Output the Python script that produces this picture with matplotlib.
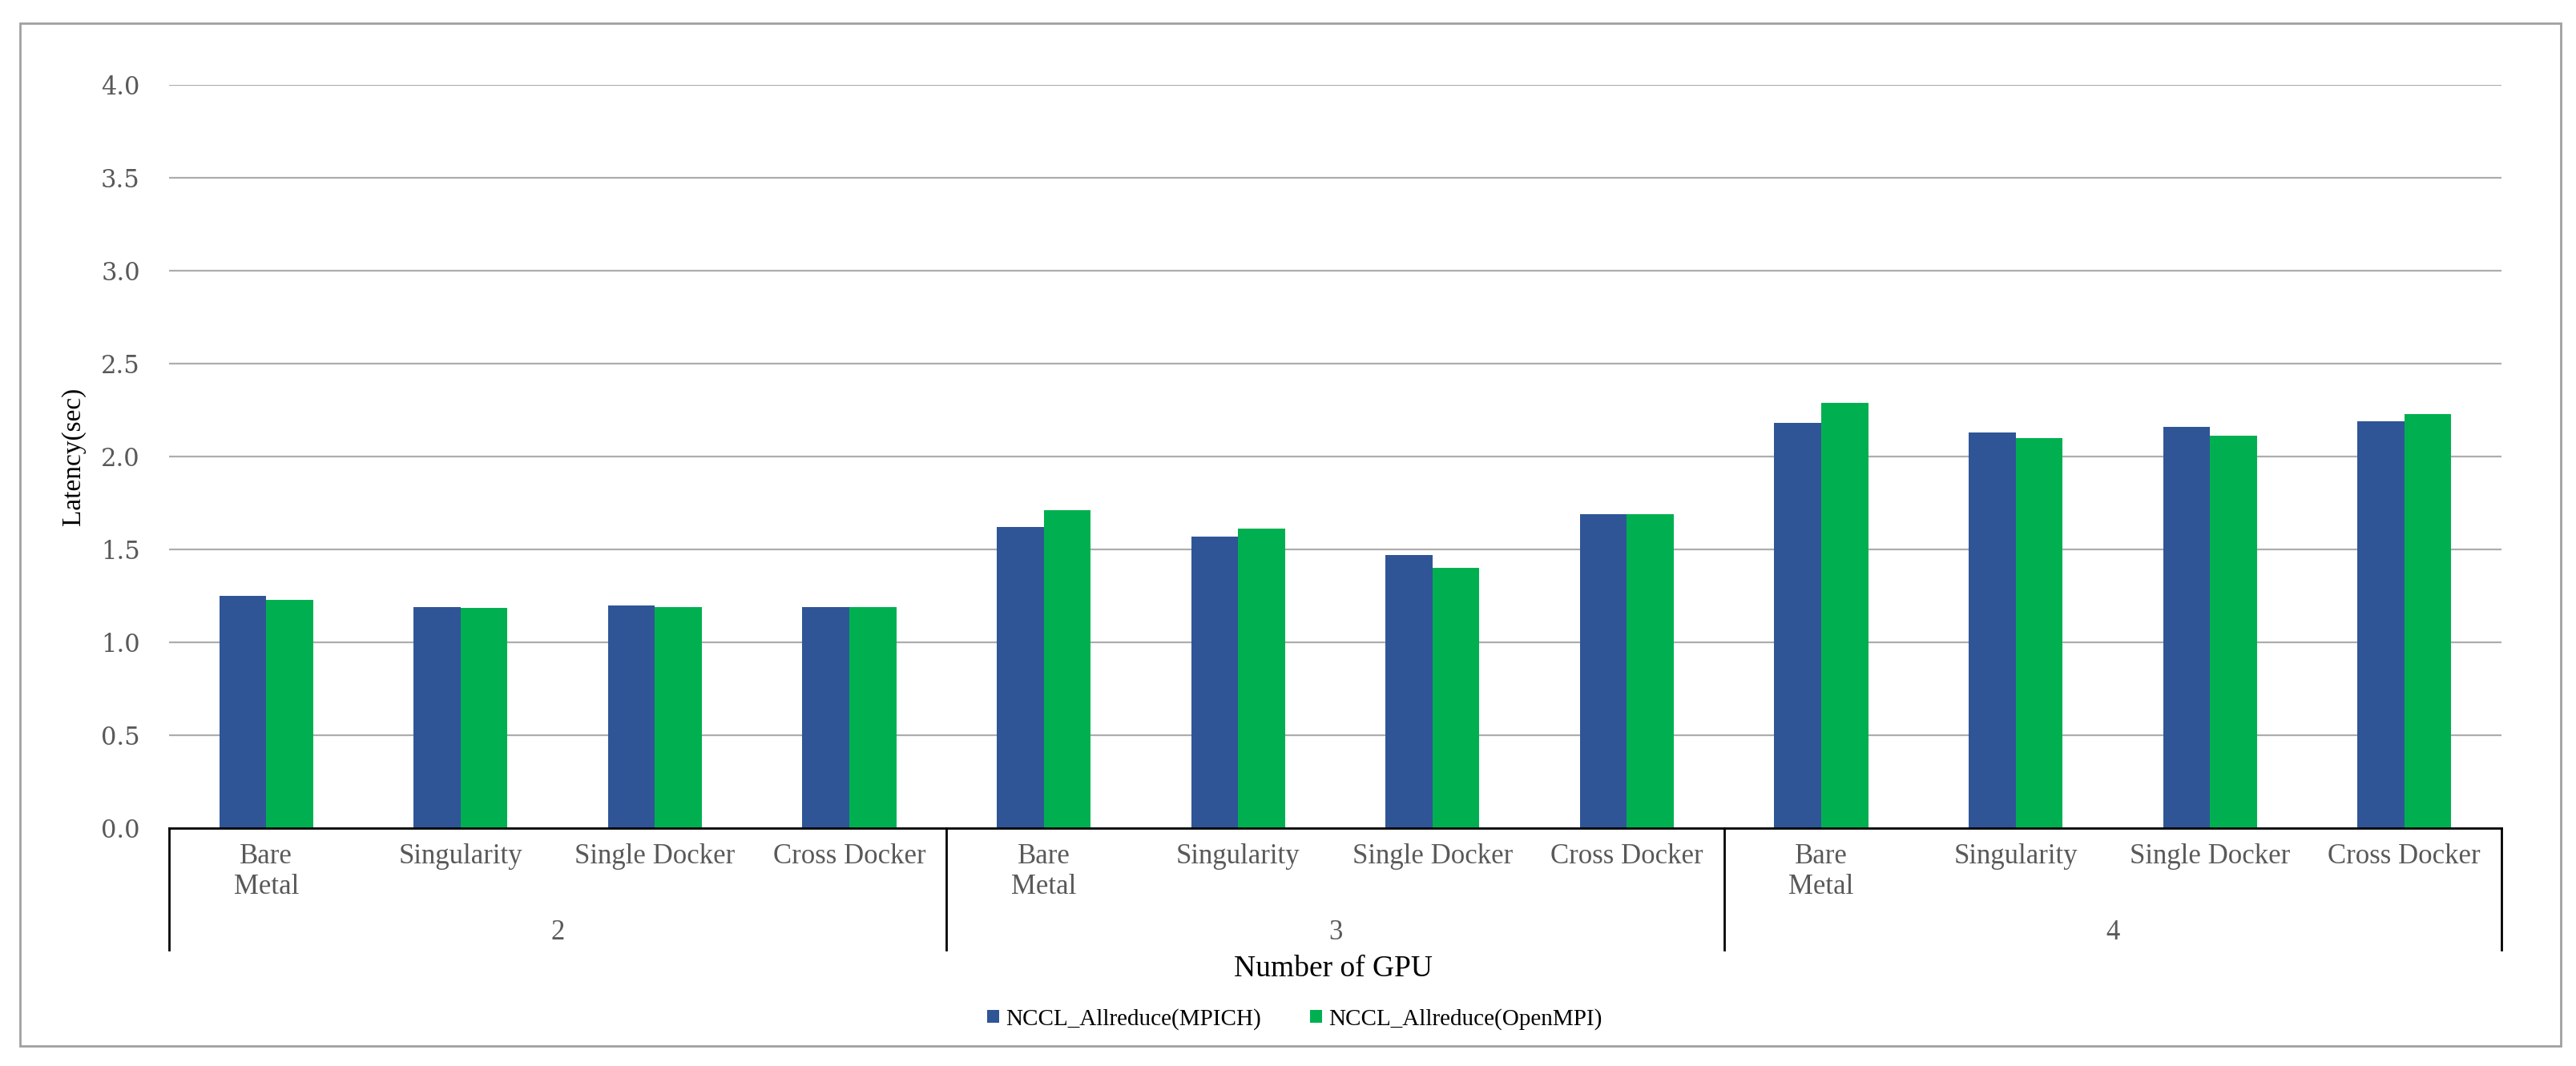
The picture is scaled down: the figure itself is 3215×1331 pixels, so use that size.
import matplotlib
matplotlib.use("Agg")
import matplotlib.pyplot as plt
import matplotlib.transforms as mtransforms
from matplotlib.patches import Rectangle
import numpy as np

# data
gpu_counts = ["2", "3", "4"]
setups = ["Bare\nMetal", "Singularity", "Single Docker", "Cross Docker"]
mpich = [1.25, 1.19, 1.20, 1.19,
         1.62, 1.57, 1.47, 1.69,
         2.18, 2.13, 2.16, 2.19]
openmpi = [1.23, 1.185, 1.19, 1.19,
           1.71, 1.61, 1.40, 1.69,
           2.29, 2.10, 2.11, 2.23]
series_names = ["NCCL_Allreduce(MPICH)", "NCCL_Allreduce(OpenMPI)"]

blue = "#2F5597"
green = "#00B050"
text_gray = "#595959"

plt.rcParams['font.family'] = ['Liberation Serif', 'DejaVu Serif']

fig = plt.figure(figsize=(16.08, 6.655), dpi=200)
ax = fig.add_axes([0.0656, 0.2231, 0.9052, 0.6973])

n = len(mpich)
x = np.arange(n)
w = 0.2415
b1 = ax.bar(x - w / 2, mpich, w, color=blue, label=series_names[0])
b2 = ax.bar(x + w / 2, openmpi, w, color=green, label=series_names[1])

ax.set_xlim(-0.5, n - 0.5)
ax.set_ylim(0, 4)
yt = np.arange(0, 4.01, 0.5)
ax.set_yticks(yt)
ax.set_yticklabels([f"{v:.1f}" for v in yt], fontfamily="DejaVu Serif")
ax.yaxis.grid(True, color="#ADADAD", linewidth=0.8)
ax.set_axisbelow(True)

for s in ["top", "right", "left"]:
    ax.spines[s].set_visible(False)
ax.spines["bottom"].set_color("black")
ax.spines["bottom"].set_linewidth(1.0)

ax.set_xticks(x)
ax.set_xticklabels(setups * len(gpu_counts), linespacing=1.2)
ax.tick_params(axis="x", length=0, pad=7, labelsize=12.5, colors=text_gray)
ax.tick_params(axis="y", length=0, pad=13, labelsize=11, colors=text_gray)

# group dividers and group labels below the axis
trans = mtransforms.blended_transform_factory(ax.transData, ax.transAxes)
for k in range(len(gpu_counts) + 1):
    xd = -0.5 + k * len(setups)
    ax.plot([xd, xd], [0, -0.164], color="black", linewidth=1.0,
            transform=trans, clip_on=False)
for k, g in enumerate(gpu_counts):
    xc = k * len(setups) + (len(setups) - 1) / 2
    ax.text(xc, -0.141, g, transform=trans, ha="center", va="center",
            fontsize=12.5, color=text_gray)

ax.set_ylabel("Latency(sec)", fontsize=12)
ax.yaxis.set_label_coords(-0.0357, 0.5)
fig.text(0.5175, 0.0909, "Number of GPU", ha="center", va="center", fontsize=13.5)

fig.legend(handles=[b1, b2], loc="center", bbox_to_anchor=(0.5025, 0.0443),
           ncol=2, frameon=False, fontsize=10.5, handlelength=0.5,
           handleheight=0.5, handletextpad=0.3, columnspacing=2.1)

# outer chart border
fig.patches.append(Rectangle((0.0078, 0.0188), 0.986, 0.9592,
                             transform=fig.transFigure, fill=False,
                             edgecolor="#A0A0A0", linewidth=1.0))

fig.savefig("out.png", dpi=200)
